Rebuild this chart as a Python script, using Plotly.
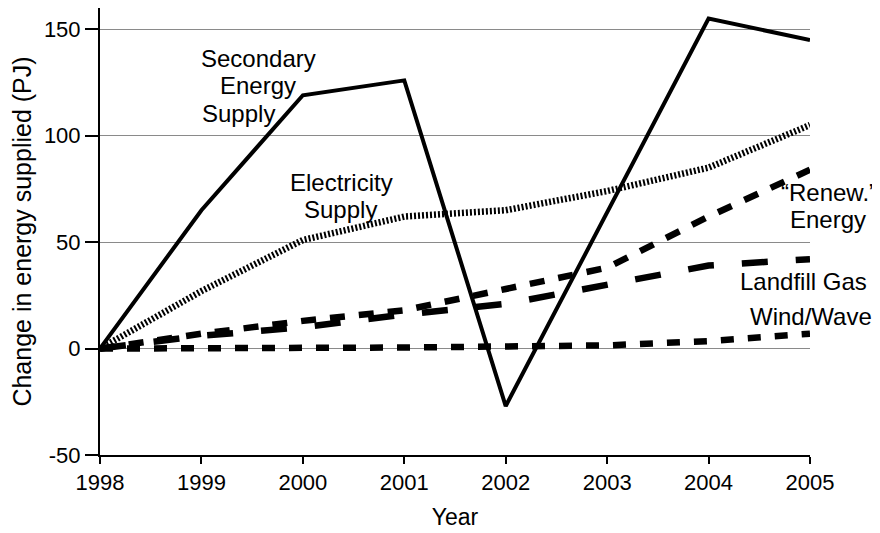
import plotly.graph_objects as go

years = [1998, 1999, 2000, 2001, 2002, 2003, 2004, 2005]
secondary = [0, 65, 119, 126, -27, 64, 155, 145]
electricity = [0, 27, 51, 62, 65, 74, 85, 105]
renewable = [0, 7, 13, 18, 28, 38, 62, 84]
landfill = [0, 6, 10, 16, 21, 30, 39, 42]
windwave = [0, 0, 0, 0.5, 1, 1.5, 3.5, 7]

y_ticks = [-50, 0, 50, 100, 150]
y_tick_text = ["-50", "0", "50", "100", "150"]
x_ticks = years

FONT = "Liberation Sans, Arial, sans-serif"

# The page body has an 8px margin, so the figure is drawn from (8, 8).
OFF = 8
W, H = 880 - OFF, 533 - OFF
# plot area in page pixels (for placing free labels)
L, R, T, B = 100, 810, 8, 455

fig = go.Figure()
fig.add_trace(go.Scatter(x=years, y=windwave, mode="lines",
                         line=dict(color="black", width=6.5, dash="13px,14px")))
fig.add_trace(go.Scatter(x=years, y=landfill, mode="lines",
                         line=dict(color="black", width=6.5, dash="26px,28px")))
fig.add_trace(go.Scatter(x=years, y=renewable, mode="lines",
                         line=dict(color="black", width=6.5, dash="15px,14px")))
fig.add_trace(go.Scatter(x=years, y=electricity, mode="lines",
                         line=dict(color="black", width=6.5, dash="2px,2px")))
fig.add_trace(go.Scatter(x=years, y=secondary, mode="lines",
                         line=dict(color="black", width=4)))

labels = [
    ("Secondary", 258, 58, "center"),
    ("Energy", 258, 86, "center"),
    ("Supply", 238, 113, "center"),
    ("Electricity", 341, 182, "center"),
    ("Supply", 340, 209, "center"),
    ("\u201cRenew.\u201d", 779, 192, "left"),
    ("Energy", 788, 219, "left"),
    ("Landfill Gas", 738, 282, "left"),
    ("Wind/Wave", 748, 316, "left"),
]
for txt, px, py, al in labels:
    fig.add_annotation(text=txt, x=(px - L) / (R - L), y=(B - py) / (B - T),
                       xref="paper", yref="paper",
                       xanchor=al, yanchor="middle", showarrow=False,
                       font=dict(family=FONT, size=24, color="black"))

fig.update_layout(
    width=W, height=H,
    margin=dict(l=L - OFF, r=880 - R, t=T - OFF, b=533 - B),
    paper_bgcolor="white", plot_bgcolor="white",
    showlegend=False,
    font=dict(family=FONT, size=22, color="black"),
    xaxis=dict(range=[1998, 2005], tickvals=x_ticks, showgrid=False, zeroline=False,
               showline=True, linecolor="black", linewidth=2, automargin=False,
               ticks="outside", ticklen=7, tickwidth=2, tickcolor="black",
               ticklabelstandoff=0,
               title=dict(text="Year", font=dict(size=23), standoff=14),
               tickfont=dict(size=22)),
    yaxis=dict(range=[-50, 160], tickvals=y_ticks, ticktext=y_tick_text,
               showgrid=True, gridcolor="#8a8a8a",
               gridwidth=1, zeroline=True, zerolinecolor="#8a8a8a", zerolinewidth=1,
               showline=True, linecolor="black", linewidth=2, automargin=False,
               ticks="outside", ticklen=13, tickwidth=2, tickcolor="black",
               title=dict(text="Change in energy supplied (PJ)", font=dict(size=25), standoff=12),
               tickfont=dict(size=22)),
)

fig.write_html("out.html")
